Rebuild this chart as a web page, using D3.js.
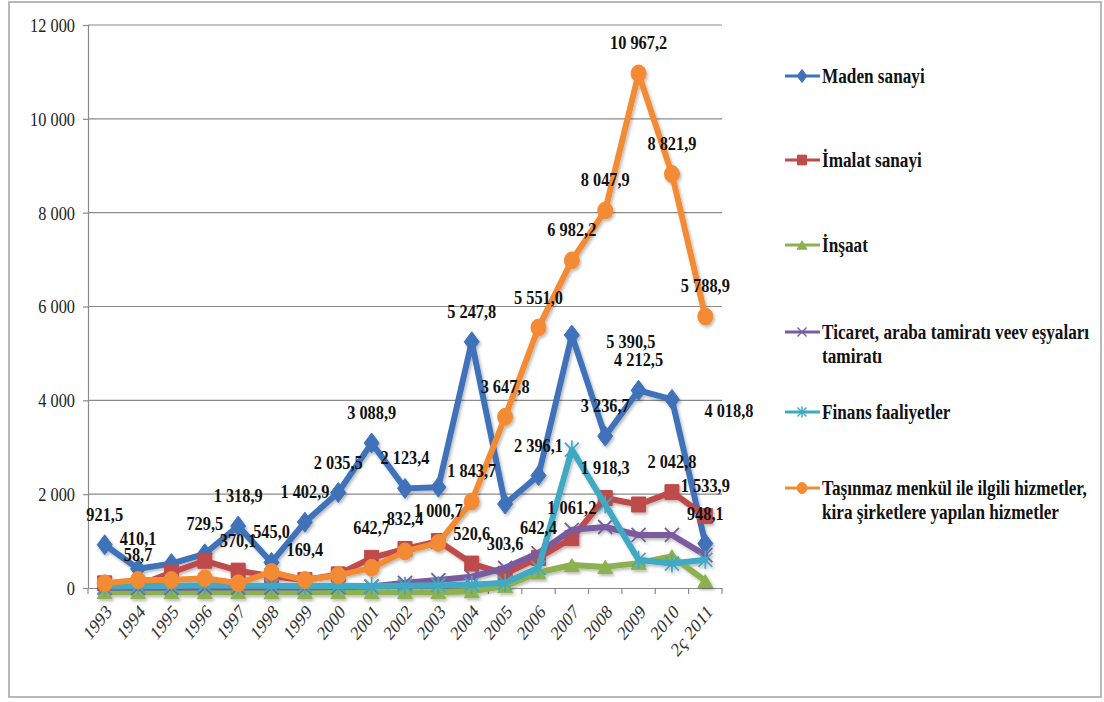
<!DOCTYPE html>
<html>
<head>
<meta charset="utf-8">
<script src="https://cdn.jsdelivr.net/npm/d3@7/dist/d3.min.js"></script>
<style>
  html, body { margin: 0; padding: 0; background: #ffffff; }
  svg { display: block; }
</style>
</head>
<body>
<svg id="chart" width="1104" height="702"></svg>
<script>
// ---------------- DATA ----------------
const years = ["1993","1994","1995","1996","1997","1998","1999","2000","2001","2002",
               "2003","2004","2005","2006","2007","2008","2009","2010","2ç 2011"];

const seriesNames = [
  "Maden sanayi",
  "İmalat sanayi",
  "İnşaat",
  "Ticaret, araba tamiratı veev eşyaları tamiratı",
  "Finans faaliyetler",
  "Taşınmaz menkül ile ilgili hizmetler, kira şirketlere yapılan hizmetler"
];

const madenSanayi  = [921.5, 410.1, 520, 729.5, 1318.9, 545.0, 1402.9, 2035.5, 3088.9, 2123.4,
                      2150, 5247.8, 1790, 2396.1, 5390.5, 3236.7, 4212.5, 4018.8, 948.1];
const imalatSanayi = [100, 58.7, 330, 580, 370.1, 250, 169.4, 290, 642.7, 832.4,
                      1000.7, 520.6, 303.6, 642.4, 1061.2, 1918.3, 1780, 2042.8, 1533.9];
const insaat       = [-90, -90, -90, -90, -90, -90, -90, -90, -90, -90,
                      -90, -70, 40, 330, 490, 450, 530, 680, 150];
const ticaret      = [5, 5, 5, 10, 10, 10, 10, 20, 30, 110,
                      170, 240, 430, 745, 1240, 1300, 1130, 1130, 700];
const finans       = [30, 40, 40, 60, 50, 50, 40, 50, 40, 50,
                      60, 70, 110, 430, 2950, 1780, 600, 520, 600];
const tasinmaz     = [100, 170, 170, 210, 100, 340, 170, 270, 430, 780,
                      960, 1843.7, 3647.8, 5551.0, 6982.2, 8047.9, 10967.2, 8821.9, 5788.9];

const yTicks = [0, 2000, 4000, 6000, 8000, 10000, 12000];

// data labels shown on the chart: [series index, year index]
const shownLabels = [
  [0,0],[0,1],[0,3],[0,4],[0,5],[0,6],[0,7],[0,8],[0,9],[0,11],[0,13],[0,14],[0,15],[0,16],[0,17],[0,18],
  [1,1],[1,4],[1,6],[1,8],[1,9],[1,10],[1,11],[1,12],[1,13],[1,14],[1,15],[1,17],[1,18],
  [5,11],[5,12],[5,13],[5,14],[5,15],[5,16],[5,17],[5,18]
];

// ---------------- STYLE / LAYOUT ----------------
const allSeries = [madenSanayi, imalatSanayi, insaat, ticaret, finans, tasinmaz];
const colors  = ["#3F72B9", "#BE4B48", "#8DB150", "#7A5C9E", "#3FA9C4", "#F38B35"];
const markers = ["diamond", "square", "triangle", "x", "star", "circle"];
const labelNudge = { "0-14": [59, 37], "0-17": [57, 42] };
const SQ = 0.86;               // horizontal text compression seen in the picture
const serif = "'Liberation Serif', 'Times New Roman', serif";

const svg = d3.select("#chart");
const W = 1104, H = 702;
const plot = { left: 88, right: 722, top: 25, bottom: 588 };

svg.append("rect").attr("width", W).attr("height", H).attr("fill", "#fff");
svg.append("rect").attr("x", 9).attr("y", 2).attr("width", 1092).attr("height", 695)
  .attr("fill", "none").attr("stroke", "#a8a8a8").attr("stroke-width", 1.6);

const defs = svg.append("defs");
const f = defs.append("filter").attr("id", "shadow").attr("x", "-20%").attr("y", "-20%")
  .attr("width", "140%").attr("height", "140%");
f.append("feDropShadow").attr("dx", 1.5).attr("dy", 2).attr("stdDeviation", 1.4)
  .attr("flood-color", "#000").attr("flood-opacity", 0.28);

const x = d3.scaleBand().domain(years).range([plot.left, plot.right]);
const xc = d => x(d) + x.bandwidth() / 2;
const y = d3.scaleLinear().domain([0, 12000]).range([plot.bottom, plot.top]);

const loc = d3.formatLocale({ decimal: ",", thousands: " ", grouping: [3], currency: ["", ""] });
const fmtTick = loc.format(",.0f");
const fmtVal  = loc.format(",.1f");

function squash(sel, px, py, extra) {
  sel.attr("transform", `translate(${px},${py}) scale(${SQ},1)` + (extra || ""));
}

// grid lines
const gGrid = svg.append("g");
gGrid.selectAll("line").data(yTicks.filter(t => t > 0)).join("line")
  .attr("x1", plot.left).attr("x2", plot.right)
  .attr("y1", d => y(d)).attr("y2", d => y(d))
  .attr("stroke", "#8a8a8a").attr("stroke-width", 1.2);

// y axis
const yAxis = d3.axisLeft(y).tickValues(yTicks).tickSize(5).tickFormat(fmtTick);
const gy = svg.append("g").attr("transform", `translate(${plot.left},0)`).call(yAxis);
gy.select(".domain").attr("stroke", "#8a8a8a").attr("stroke-width", 1.2);
gy.selectAll(".tick line").attr("stroke", "#8a8a8a").attr("stroke-width", 1.2);
gy.selectAll(".tick text").each(function(d) {
  const t = d3.select(this);
  t.attr("x", null).attr("dy", null)
   .attr("font-family", serif).attr("font-size", 19).attr("fill", "#222")
   .attr("text-anchor", "end").attr("dominant-baseline", "central");
  squash(t, -13, 0);
});

// x axis
const gx = svg.append("g").attr("transform", `translate(0,${plot.bottom})`);
const xAxis = d3.axisBottom(x).tickSize(0).tickFormat(d => d);
gx.call(xAxis);
gx.select(".domain").attr("stroke", "#8a8a8a").attr("stroke-width", 1.2);
gx.selectAll(".bnd").data(years.concat(["end"])).join("line").attr("class", "bnd")
  .attr("x1", (d, i) => i < years.length ? x(d) : plot.right)
  .attr("x2", (d, i) => i < years.length ? x(d) : plot.right)
  .attr("y1", 0).attr("y2", 6).attr("stroke", "#8a8a8a").attr("stroke-width", 1.2);
gx.selectAll(".tick text").each(function(d) {
  const t = d3.select(this);
  t.attr("y", null).attr("dy", null)
   .attr("font-family", serif).attr("font-size", 20).attr("fill", "#333")
   .attr("text-anchor", "end");
  t.attr("transform", `translate(8,25) scale(0.8,1) rotate(-45)`);
});

// markers
function markerPath(type, s) {
  const k = s || 1;
  switch (type) {
    case "diamond": { const w = 7.5*k, h = 10*k; return `M0,${-h}L${w},0L0,${h}L${-w},0Z`; }
    case "square":  { const w = 7*k, h = 7.5*k; return `M${-w},${-h}H${w}V${h}H${-w}Z`; }
    case "triangle":{ const w = 7.5*k, h = 6.5*k; return `M0,${-h}L${w},${h}L${-w},${h}Z`; }
    case "circle":  { const rx = 7.5*k, ry = 8.5*k;
      return `M${-rx},0A${rx},${ry} 0 1,0 ${rx},0A${rx},${ry} 0 1,0 ${-rx},0Z`; }
    case "x": { const a = 7*k; return `M${-a},${-a}L${a},${a}M${-a},${a}L${a},${-a}`; }
    case "star": { const a = 7*k, b = 9*k;
      return `M${-a},${-a}L${a},${a}M${-a},${a}L${a},${-a}M0,${-b}L0,${b}`; }
  }
}

const line = d3.line().x((d, i) => xc(years[i])).y(d => y(d));

const gSeries = svg.append("g").attr("filter", "url(#shadow)");
allSeries.forEach((vals, si) => {
  const g = gSeries.append("g");
  g.append("path").datum(vals).attr("d", line)
    .attr("fill", "none").attr("stroke", colors[si]).attr("stroke-width", 6)
    .attr("stroke-linejoin", "round").attr("stroke-linecap", "round");
  const open = markers[si] === "x" || markers[si] === "star";
  g.selectAll(".m").data(vals).join("path").attr("class", "m")
    .attr("transform", (d, i) => `translate(${xc(years[i])},${y(d)})`)
    .attr("d", markerPath(markers[si]))
    .attr("fill", open ? "none" : colors[si])
    .attr("stroke", colors[si]).attr("stroke-width", open ? 1.8 : 1);
});

// data labels
const gLab = svg.append("g");
shownLabels.forEach(([si, yi]) => {
  const v = allSeries[si][yi];
  const nd = labelNudge[si + "-" + yi] || [0, 0];
  const t = gLab.append("text").text(fmtVal(v))
    .attr("font-family", serif).attr("font-size", 19).attr("font-weight", "bold")
    .attr("fill", "#111").attr("text-anchor", "middle");
  squash(t, xc(years[yi]) + nd[0], y(v) - 24 + nd[1]);
});

// legend
const legend = [
  { lines: ["Maden sanayi"], y: 76 },
  { lines: ["İmalat sanayi"], y: 160 },
  { lines: ["İnşaat"], y: 245 },
  { lines: ["Ticaret, araba tamiratı veev eşyaları", "tamiratı"], y: 332 },
  { lines: ["Finans faaliyetler"], y: 412 },
  { lines: ["Taşınmaz menkül ile ilgili hizmetler,", "kira şirketlere yapılan hizmetler"], y: 488 }
];
const gLeg = svg.append("g");
legend.forEach((L, si) => {
  const g = gLeg.append("g").attr("transform", `translate(0,${L.y})`);
  g.append("line").attr("x1", 785).attr("x2", 820).attr("y1", 0).attr("y2", 0)
    .attr("stroke", colors[si]).attr("stroke-width", 3);
  const open = markers[si] === "x" || markers[si] === "star";
  g.append("path").attr("transform", "translate(802,0)").attr("d", markerPath(markers[si], 0.65))
    .attr("fill", open ? "none" : colors[si]).attr("stroke", colors[si]).attr("stroke-width", open ? 1.4 : 1);
  L.lines.forEach((s, li) => {
    const t = g.append("text").text(s)
      .attr("font-family", serif).attr("font-size", 20).attr("font-weight", "bold")
      .attr("fill", "#111").attr("dominant-baseline", "central");
    squash(t, 822, li * 24);
  });
});
</script>
</body>
</html>
